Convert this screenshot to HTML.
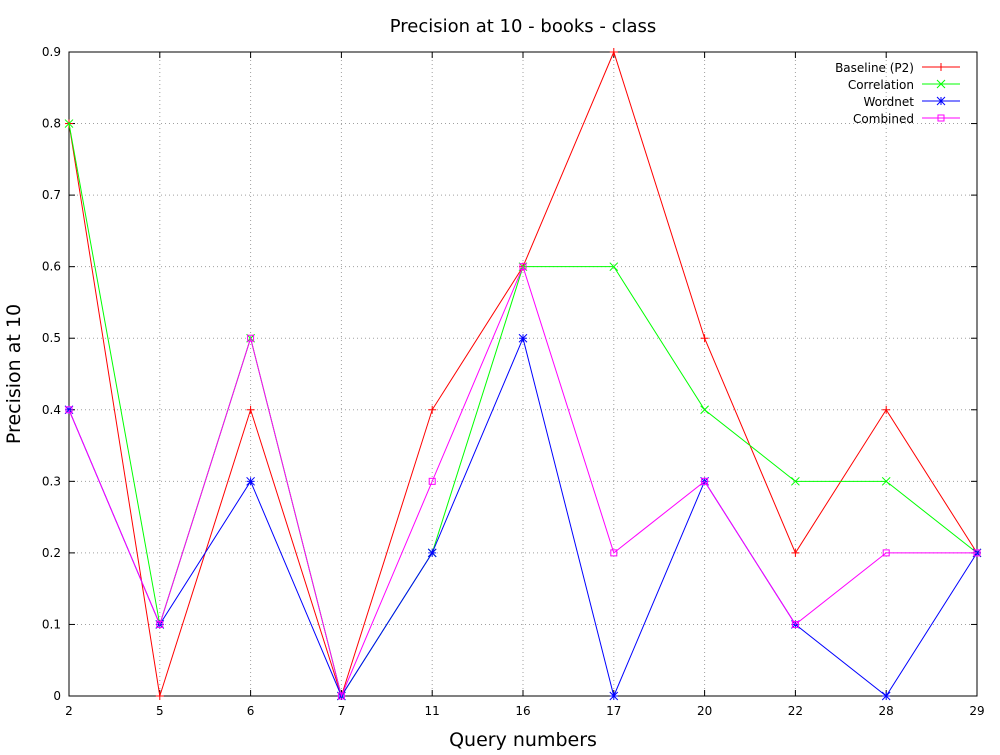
<!DOCTYPE html>
<html><head><meta charset="utf-8"><style>
html,body{margin:0;padding:0;background:#fff;}
svg text{font-family:"DejaVu Sans","Liberation Sans",sans-serif;}
</style></head><body>
<svg id="chart" width="1000" height="750" xmlns="http://www.w3.org/2000/svg">
<rect width="1000" height="750" fill="#fff"/>
<g id="grid"></g><g id="axes"></g><g id="series"></g><g id="legend"></g>
<text x="523" y="32" text-anchor="middle" font-size="18">Precision at 10 - books - class</text>
<text x="523" y="746" text-anchor="middle" font-size="19">Query numbers</text>
<text transform="translate(20,374) rotate(-90)" text-anchor="middle" font-size="19">Precision at 10</text>
</svg>
<script>
const categories=["2","5","6","7","11","16","17","20","22","28","29"];
const yTicks=[0,0.1,0.2,0.3,0.4,0.5,0.6,0.7,0.8,0.9];
const yTickLabels=["0","0.1","0.2","0.3","0.4","0.5","0.6","0.7","0.8","0.9"];
const seriesNames=["Baseline (P2)","Correlation","Wordnet","Combined"];
const baseline=[0.8,0,0.4,0,0.4,0.6,0.9,0.5,0.2,0.4,0.2];
const correlation=[0.8,0.1,0.5,0,0.2,0.6,0.6,0.4,0.3,0.3,0.2];
const wordnet=[0.4,0.1,0.3,0,0.2,0.5,0,0.3,0.1,0,0.2];
const combined=[0.4,0.1,0.5,0,0.3,0.6,0.2,0.3,0.1,0.2,0.2];
const colors=["#ff0000","#00ff00","#0000ff","#ff00ff"];
const markers=["plus","cross","star","square"];

const NS="http://www.w3.org/2000/svg";
const L=69,R=977,T=52,B=696,yMax=0.9;
function xPos(i){return L+i*(R-L)/(categories.length-1);}
function yPos(v){return B-v/yMax*(B-T);}
function mk(tag,attrs,parent){const e=document.createElementNS(NS,tag);for(const k in attrs)e.setAttribute(k,attrs[k]);parent.appendChild(e);return e;}
const grid=document.getElementById('grid'),axes=document.getElementById('axes'),ser=document.getElementById('series'),leg=document.getElementById('legend');

yTicks.forEach((v,i)=>{const y=yPos(v);
 if(i>0&&i<yTicks.length-1){const g=mk('line',{x1:L,x2:R,y1:y,y2:y,stroke:'#a0a0a0','stroke-dasharray':'1,3','stroke-width':1},grid);
 }
 mk('line',{x1:L,x2:L+6,y1:y,y2:y,stroke:'#000'},axes);mk('line',{x1:R,x2:R-6,y1:y,y2:y,stroke:'#000'},axes);
 const t=mk('text',{x:L-8,y:y+4,'text-anchor':'end','font-size':12},axes);t.textContent=yTickLabels[i];
 });
categories.forEach((c,i)=>{const x=xPos(i);
 if(i>0&&i<categories.length-1){const g=mk('line',{x1:x,x2:x,y1:T,y2:B,stroke:'#a0a0a0','stroke-dasharray':'1,3','stroke-width':1},grid);
 }
 mk('line',{x1:x,x2:x,y1:B,y2:B-6,stroke:'#000'},axes);mk('line',{x1:x,x2:x,y1:T,y2:T+6,stroke:'#000'},axes);
 const t=mk('text',{x:x,y:B+19,'text-anchor':'middle','font-size':12},axes);t.textContent=c;
 });
const frame=mk('rect',{x:L,y:T,width:R-L,height:B-T,fill:'none',stroke:'#000'},axes);


function marker(type,x,y,col,parent){
 const s=4,g=mk('g',{stroke:col,fill:'none','stroke-width':1},parent);
 if(type==='plus'||type==='star'){mk('line',{x1:x-s,x2:x+s,y1:y,y2:y},g);mk('line',{x1:x,x2:x,y1:y-s,y2:y+s},g);}
 if(type==='cross'||type==='star'){mk('line',{x1:x-s,x2:x+s,y1:y-s,y2:y+s},g);mk('line',{x1:x-s,x2:x+s,y1:y+s,y2:y-s},g);}
 if(type==='square'){mk('rect',{x:x-3,y:y-3,width:6,height:6},g);}
 return g;}
[baseline,correlation,wordnet,combined].forEach((data,si)=>{
 const pts=data.map((v,i)=>xPos(i)+','+yPos(v)).join(' ');
 const pl=mk('polyline',{points:pts,fill:'none',stroke:colors[si],'stroke-width':1},ser);
 
 data.forEach((v,i)=>{const m=marker(markers[si],xPos(i),yPos(v),colors[si],ser);
 });
 const ly=67+si*17;
 const t=mk('text',{x:914,y:ly+5,'text-anchor':'end','font-size':12},leg);t.textContent=seriesNames[si];
 
 const ll=mk('line',{x1:922,x2:960,y1:ly,y2:ly,stroke:colors[si]},leg);
 
 marker(markers[si],941,ly,colors[si],leg);
});
</script>
</body></html>
